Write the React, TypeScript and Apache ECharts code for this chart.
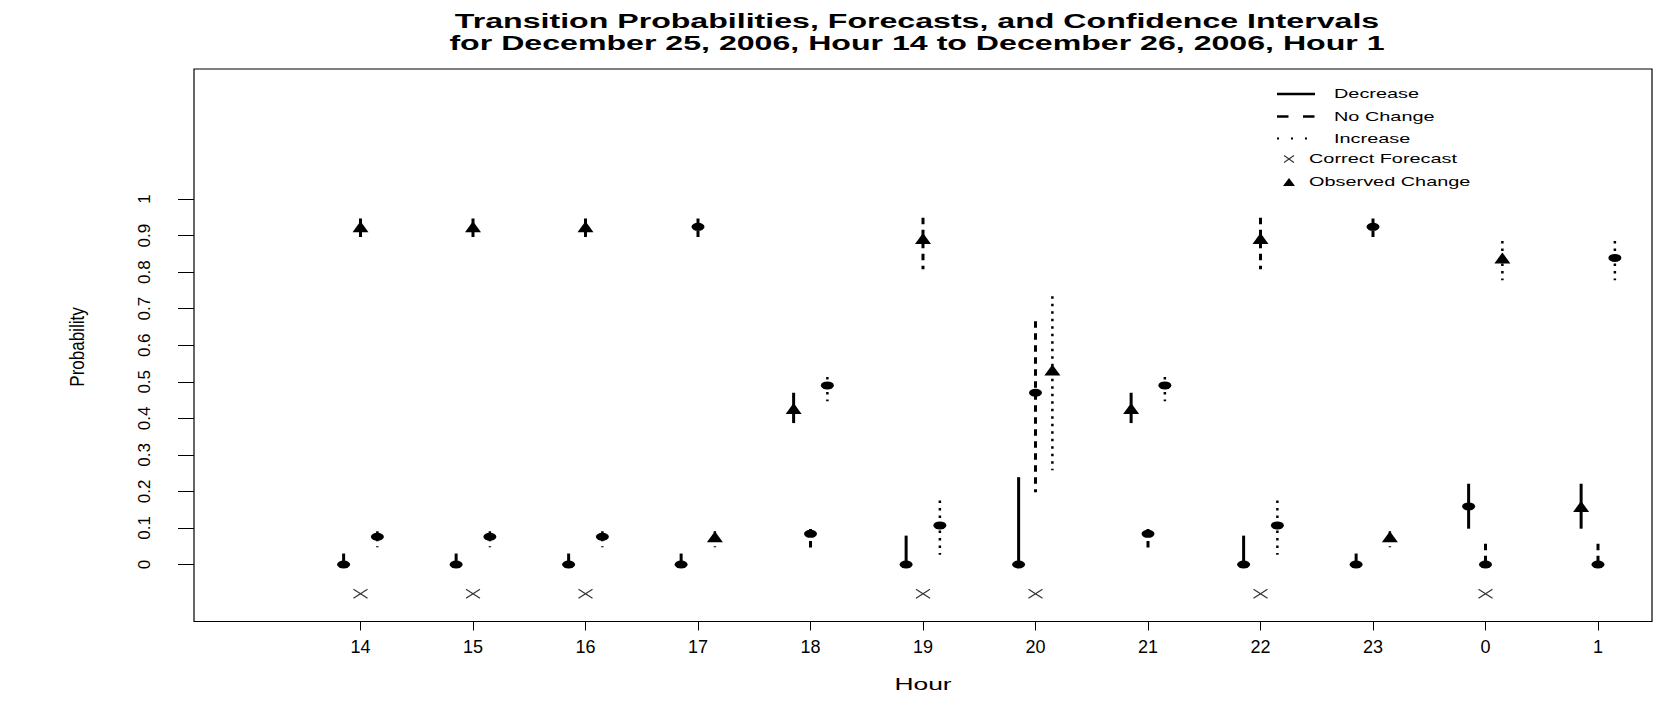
import React, { useEffect, useRef } from "react";
import * as echarts from "echarts";

// ---- data ----
const hours = ["14", "15", "16", "17", "18", "19", "20", "21", "22", "23", "0", "1"];

const decProb = [0, 0, 0, 0, 0.427, 0, 0, 0.427, 0, 0, 0.159, 0.159];
const decLo = [0, 0, 0, 0, 0.387, 0, 0, 0.387, 0, 0, 0.098, 0.098];
const decHi = [0.03, 0.03, 0.03, 0.03, 0.47, 0.079, 0.239, 0.47, 0.079, 0.03, 0.221, 0.221];

const ncProb = [0.924, 0.924, 0.924, 0.924, 0.084, 0.892, 0.47, 0.084, 0.892, 0.924, 0, 0];
const ncLo = [0.888, 0.888, 0.888, 0.888, 0.04, 0.808, 0.198, 0.04, 0.808, 0.888, 0, 0];
const ncHi = [0.947, 0.947, 0.947, 0.947, 0.097, 0.949, 0.666, 0.097, 0.949, 0.947, 0.057, 0.057];

const incProb = [0.076, 0.076, 0.076, 0.076, 0.49, 0.107, 0.532, 0.49, 0.107, 0.076, 0.839, 0.839];
const incLo = [0.047, 0.047, 0.047, 0.047, 0.447, 0.027, 0.258, 0.447, 0.027, 0.047, 0.778, 0.778];
const incHi = [0.091, 0.091, 0.091, 0.091, 0.513, 0.175, 0.734, 0.513, 0.175, 0.091, 0.885, 0.885];

// observed change per hour
const observed = ["No Change", "No Change", "No Change", "Increase", "Decrease", "No Change", "Increase", "Decrease", "No Change", "Increase", "Increase", "Decrease"];
// correct forecast flags
const correct = [1, 1, 1, 0, 0, 1, 1, 0, 1, 0, 1, 0];
const correctMarkY = -0.08;

const yTicks = [0, 0.1, 0.2, 0.3, 0.4, 0.5, 0.6, 0.7, 0.8, 0.9, 1];
const yTickLabels = ["0", "0.1", "0.2", "0.3", "0.4", "0.5", "0.6", "0.7", "0.8", "0.9", "1"];

const titleLines = [
  "Transition Probabilities, Forecasts, and Confidence Intervals",
  "for December 25, 2006, Hour 14 to December 26, 2006, Hour 1",
];

const FONT = "'Liberation Sans', Arial, Helvetica, sans-serif";
const ELLIPSE = "path://M0,5A5,5 0 1,0 10,5A5,5 0 1,0 0,5Z";

const groups = [
  { name: "Decrease", prob: decProb, lo: decLo, hi: decHi, offset: -0.15, dash: null as number[] | null, width: 3 },
  { name: "No Change", prob: ncProb, lo: ncLo, hi: ncHi, offset: 0, dash: [6.5, 5.5], width: 3 },
  { name: "Increase", prob: incProb, lo: incLo, hi: incHi, offset: 0.15, dash: [2.5, 5], width: 2.5 },
];

export default function App() {
  const ref = useRef<HTMLDivElement>(null);

  useEffect(() => {
    document.body.style.margin = "0";
    const chart = echarts.init(ref.current!, null, { renderer: "svg" });

    const series: any[] = [];
    groups.forEach((g) => {
      series.push({
        type: "custom",
        name: g.name + " CI",
        data: hours.map((_, i) => [i + g.offset, g.hi[i], g.lo[i]]),
        encode: { x: 0, y: [1, 2] },
        z: 2,
        renderItem: (params: any, api: any) => {
          const p1 = api.coord([api.value(0), api.value(1)]);
          const p2 = api.coord([api.value(0), api.value(2)]);
          return {
            type: "line",
            shape: { x1: p1[0], y1: p1[1], x2: p2[0], y2: p2[1] },
            style: {
              stroke: "#000",
              lineWidth: g.width,
              lineDash: g.dash || undefined,
              lineCap: "butt",
            },
          };
        },
      });
      series.push({
        type: "scatter",
        name: g.name,
        z: 3,
        data: hours.map((_, i) => {
          const obs = observed[i] === g.name;
          return {
            value: [i + g.offset, g.prob[i]],
            symbol: obs ? "triangle" : ELLIPSE,
            symbolSize: obs ? [16, 11] : [13, 8],
          };
        }),
        itemStyle: { color: "#000", opacity: 1 },
      });
    });

    series.push({
      type: "custom",
      name: "Correct Forecast",
      z: 3,
      data: hours.map((_, i) => [i, correctMarkY]).filter((_, i) => correct[i] === 1),
      encode: { x: 0, y: 1 },
      renderItem: (params: any, api: any) => {
        const c = api.coord([api.value(0), api.value(1)]);
        const w = 7, h = 4.5;
        return {
          type: "group",
          children: [
            { type: "line", shape: { x1: c[0] - w, y1: c[1] - h, x2: c[0] + w, y2: c[1] + h }, style: { stroke: "#333", lineWidth: 1.2 } },
            { type: "line", shape: { x1: c[0] - w, y1: c[1] + h, x2: c[0] + w, y2: c[1] - h }, style: { stroke: "#333", lineWidth: 1.2 } },
          ],
        };
      },
    });

    const txt = (text: string, x: number, y: number, size: number, opts: any = {}) => ({
      type: "text",
      x,
      y,
      scaleX: opts.scaleX ?? 1,
      scaleY: opts.scaleY ?? 1,
      rotation: opts.rotation ?? 0,
      silent: true,
      style: {
        text,
        fontSize: size,
        fontFamily: FONT,
        fontWeight: opts.bold ? "bold" : "normal",
        fill: "#000",
        align: opts.align ?? "center",
        textAlign: opts.align ?? "center",
        verticalAlign: "middle",
        textVerticalAlign: "middle",
      },
    });

    const legendTextX = 1334;
    const legendSymX = 1289;
    const graphic: any[] = [
      txt(titleLines[0], 917, 21, 21, { bold: true, scaleX: 1.53 }),
      txt(titleLines[1], 917, 42.5, 21, { bold: true, scaleX: 1.53 }),
      txt("Hour", 923, 685, 16, { scaleX: 1.65 }),
      txt("Probability", 77, 347, 17, { rotation: Math.PI / 2, scaleY: 1.2 }),
      // legend
      { type: "line", shape: { x1: 1277, y1: 94, x2: 1315, y2: 94 }, style: { stroke: "#000", lineWidth: 2.5 } },
      { type: "line", shape: { x1: 1277, y1: 116.5, x2: 1315, y2: 116.5 }, style: { stroke: "#000", lineWidth: 2.5, lineDash: [11.5, 14.5] } },
      { type: "line", shape: { x1: 1277, y1: 138.5, x2: 1315, y2: 138.5 }, style: { stroke: "#000", lineWidth: 2.2, lineDash: [2, 12] } },
      { type: "line", shape: { x1: legendSymX - 5, y1: 159 - 3.5, x2: legendSymX + 5, y2: 159 + 3.5 }, style: { stroke: "#333", lineWidth: 1.1 } },
      { type: "line", shape: { x1: legendSymX - 5, y1: 159 + 3.5, x2: legendSymX + 5, y2: 159 - 3.5 }, style: { stroke: "#333", lineWidth: 1.1 } },
      { type: "polygon", shape: { points: [[legendSymX - 6, 186], [legendSymX + 6, 186], [legendSymX, 178]] }, style: { fill: "#000" } },
      txt("Decrease", legendTextX, 94, 13, { scaleX: 1.53, align: "left" }),
      txt("No Change", legendTextX, 116.5, 13, { scaleX: 1.53, align: "left" }),
      txt("Increase", legendTextX, 138.5, 13, { scaleX: 1.53, align: "left" }),
      txt("Correct Forecast", 1309, 159, 13, { scaleX: 1.53, align: "left" }),
      txt("Observed Change", 1309, 182, 13, { scaleX: 1.53, align: "left" }),
    ];

    chart.setOption({
      animation: false,
      backgroundColor: "#fff",
      grid: {
        left: 194,
        top: 69,
        width: 1458,
        height: 552.5,
        show: true,
        borderColor: "#000",
        borderWidth: 1.2,
        backgroundColor: "transparent",
        containLabel: false,
      },
      xAxis: {
        type: "value",
        position: "bottom",
        min: -1.48,
        max: 11.48,
        splitLine: { show: false },
        axisLine: { show: false, onZero: false },
        axisTick: {
          show: true,
          length: 9,
          customValues: hours.map((_, i) => i),
          lineStyle: { color: "#000", width: 1 },
        },
        axisLabel: {
          customValues: hours.map((_, i) => i),
          formatter: (v: number) => hours[Math.round(v)] ?? "",
          fontSize: 18,
          fontFamily: FONT,
          color: "#000",
          margin: 16,
        },
      },
      yAxis: {
        type: "value",
        position: "left",
        min: -0.156,
        max: 1.356,
        splitLine: { show: false },
        axisLine: { show: false, onZero: false },
        axisTick: {
          show: true,
          length: 16,
          customValues: yTicks,
          lineStyle: { color: "#000", width: 1 },
        },
        axisLabel: {
          customValues: yTicks,
          formatter: (v: number) => yTickLabels[Math.round(v * 10)] ?? "",
          rotate: 90,
          fontSize: 17,
          fontFamily: FONT,
          color: "#000",
          margin: 41,
        },
      },
      graphic,
      series,
    });

    return () => chart.dispose();
  }, []);

  return <div ref={ref} style={{ width: 1679, height: 710 }} />;
}
